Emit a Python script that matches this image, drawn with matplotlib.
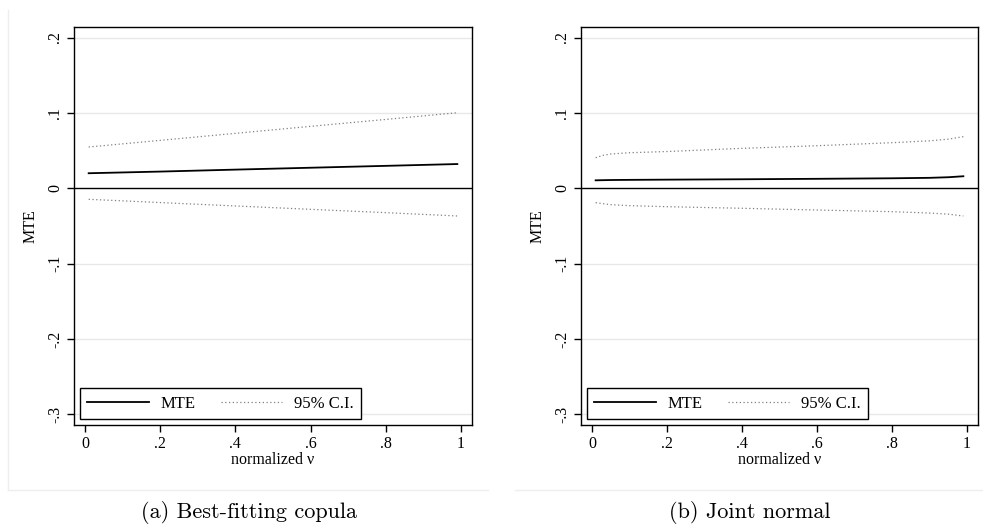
import matplotlib
matplotlib.use("Agg")
import matplotlib.pyplot as plt
from matplotlib.lines import Line2D

# values
x_left = [0.01, 0.2, 0.4, 0.6, 0.8, 0.99]
mte_left = [0.0200, 0.0222, 0.0248, 0.0273, 0.0298, 0.0322]
hi_left = [0.0548, 0.0636, 0.0729, 0.0822, 0.0914, 0.1003]
lo_left = [-0.0146, -0.0189, -0.0234, -0.0279, -0.0323, -0.0367]

x_right = [0.01, 0.03, 0.05, 0.1, 0.2, 0.4, 0.6, 0.8, 0.9, 0.95, 0.99]
mte_right = [0.0106, 0.0108, 0.0110, 0.0112, 0.0115, 0.0120, 0.0126, 0.0133, 0.0139, 0.0147, 0.0160]
hi_right = [0.0406, 0.0438, 0.0455, 0.0472, 0.0488, 0.0530, 0.0565, 0.0605, 0.0630, 0.0652, 0.0685]
lo_right = [-0.0190, -0.0204, -0.0217, -0.0230, -0.0244, -0.0265, -0.0288, -0.0310, -0.0328, -0.0343, -0.0367]

yticks = [0.2, 0.1, 0.0, -0.1, -0.2, -0.3]
ytick_labels = [".2", ".1", "0", "-.1", "-.2", "-.3"]
xticks = [0, 0.2, 0.4, 0.6, 0.8, 1]
xtick_labels = ["0", ".2", ".4", ".6", ".8", "1"]
captions = ["(a) Best-fitting copula", "(b) Joint normal"]

plt.rcParams["font.family"] = ["Liberation Serif", "DejaVu Serif"]
FS = 11.5

W, H = 983, 527
fig = plt.figure(figsize=(W / 100, H / 100), dpi=100)


def draw_panel(rect, xs, mte, hi, lo):
    ax = fig.add_axes(rect)
    for y in yticks:
        if y != 0:
            ax.axhline(y, color="#e8e8e8", lw=1.0, zorder=0)
    ax.axhline(0, color="black", lw=1.0, zorder=1)
    ax.plot(xs, mte, color="black", lw=1.3, label="MTE", zorder=3)
    ax.plot(xs, hi, color="#808080", lw=0.9, ls=(0, (1, 2)), label="95% C.I.", zorder=2)
    ax.plot(xs, lo, color="#808080", lw=0.9, ls=(0, (1, 2)), zorder=2)
    ax.set_xlim(-0.029, 1.029)
    ax.set_ylim(-0.314, 0.214)
    ax.set_yticks(yticks)
    ax.set_yticklabels(ytick_labels, rotation=90, va="center", fontsize=FS)
    ax.set_xticks(xticks)
    ax.set_xticklabels(xtick_labels, fontsize=FS)
    ax.tick_params(direction="out", length=5, width=1.0, pad=3)
    ax.set_xlabel("normalized \u03bd", fontsize=FS, labelpad=0)
    ax.set_ylabel("MTE", fontsize=FS, labelpad=6)
    for s in ax.spines.values():
        s.set_linewidth(1.0)
    leg = ax.legend(loc="lower left", ncol=2, fontsize=12, frameon=True, fancybox=False,
                    edgecolor="black", framealpha=1, handlelength=3.7, handletextpad=0.7,
                    columnspacing=1.5, borderaxespad=0.35, borderpad=0.45)
    leg.get_frame().set_linewidth(1.0)
    return ax


draw_panel([74 / W, 1 - 425 / H, 398 / W, 398 / H], x_left, mte_left, hi_left, lo_left)
draw_panel([581 / W, 1 - 425 / H, 397 / W, 398 / H], x_right, mte_right, hi_right, lo_right)

# faint panel frames
fig.add_artist(Line2D([8 / W, 8 / W], [1 - 10 / H, 1 - 490 / H], color="#eeeeee", lw=1))
fig.add_artist(Line2D([8 / W, 488 / W], [1 - 490 / H, 1 - 490 / H], color="#eeeeee", lw=1))
fig.add_artist(Line2D([515 / W, 1.0], [1 - 490 / H, 1 - 490 / H], color="#eeeeee", lw=1))

fig.text(249 / W, 1 - 512 / H, captions[0], ha="center", va="center", fontfamily="cmr10", fontsize=16)
fig.text(750 / W, 1 - 512 / H, captions[1], ha="center", va="center", fontfamily="cmr10", fontsize=16)

fig.savefig("out.png", dpi=100)
